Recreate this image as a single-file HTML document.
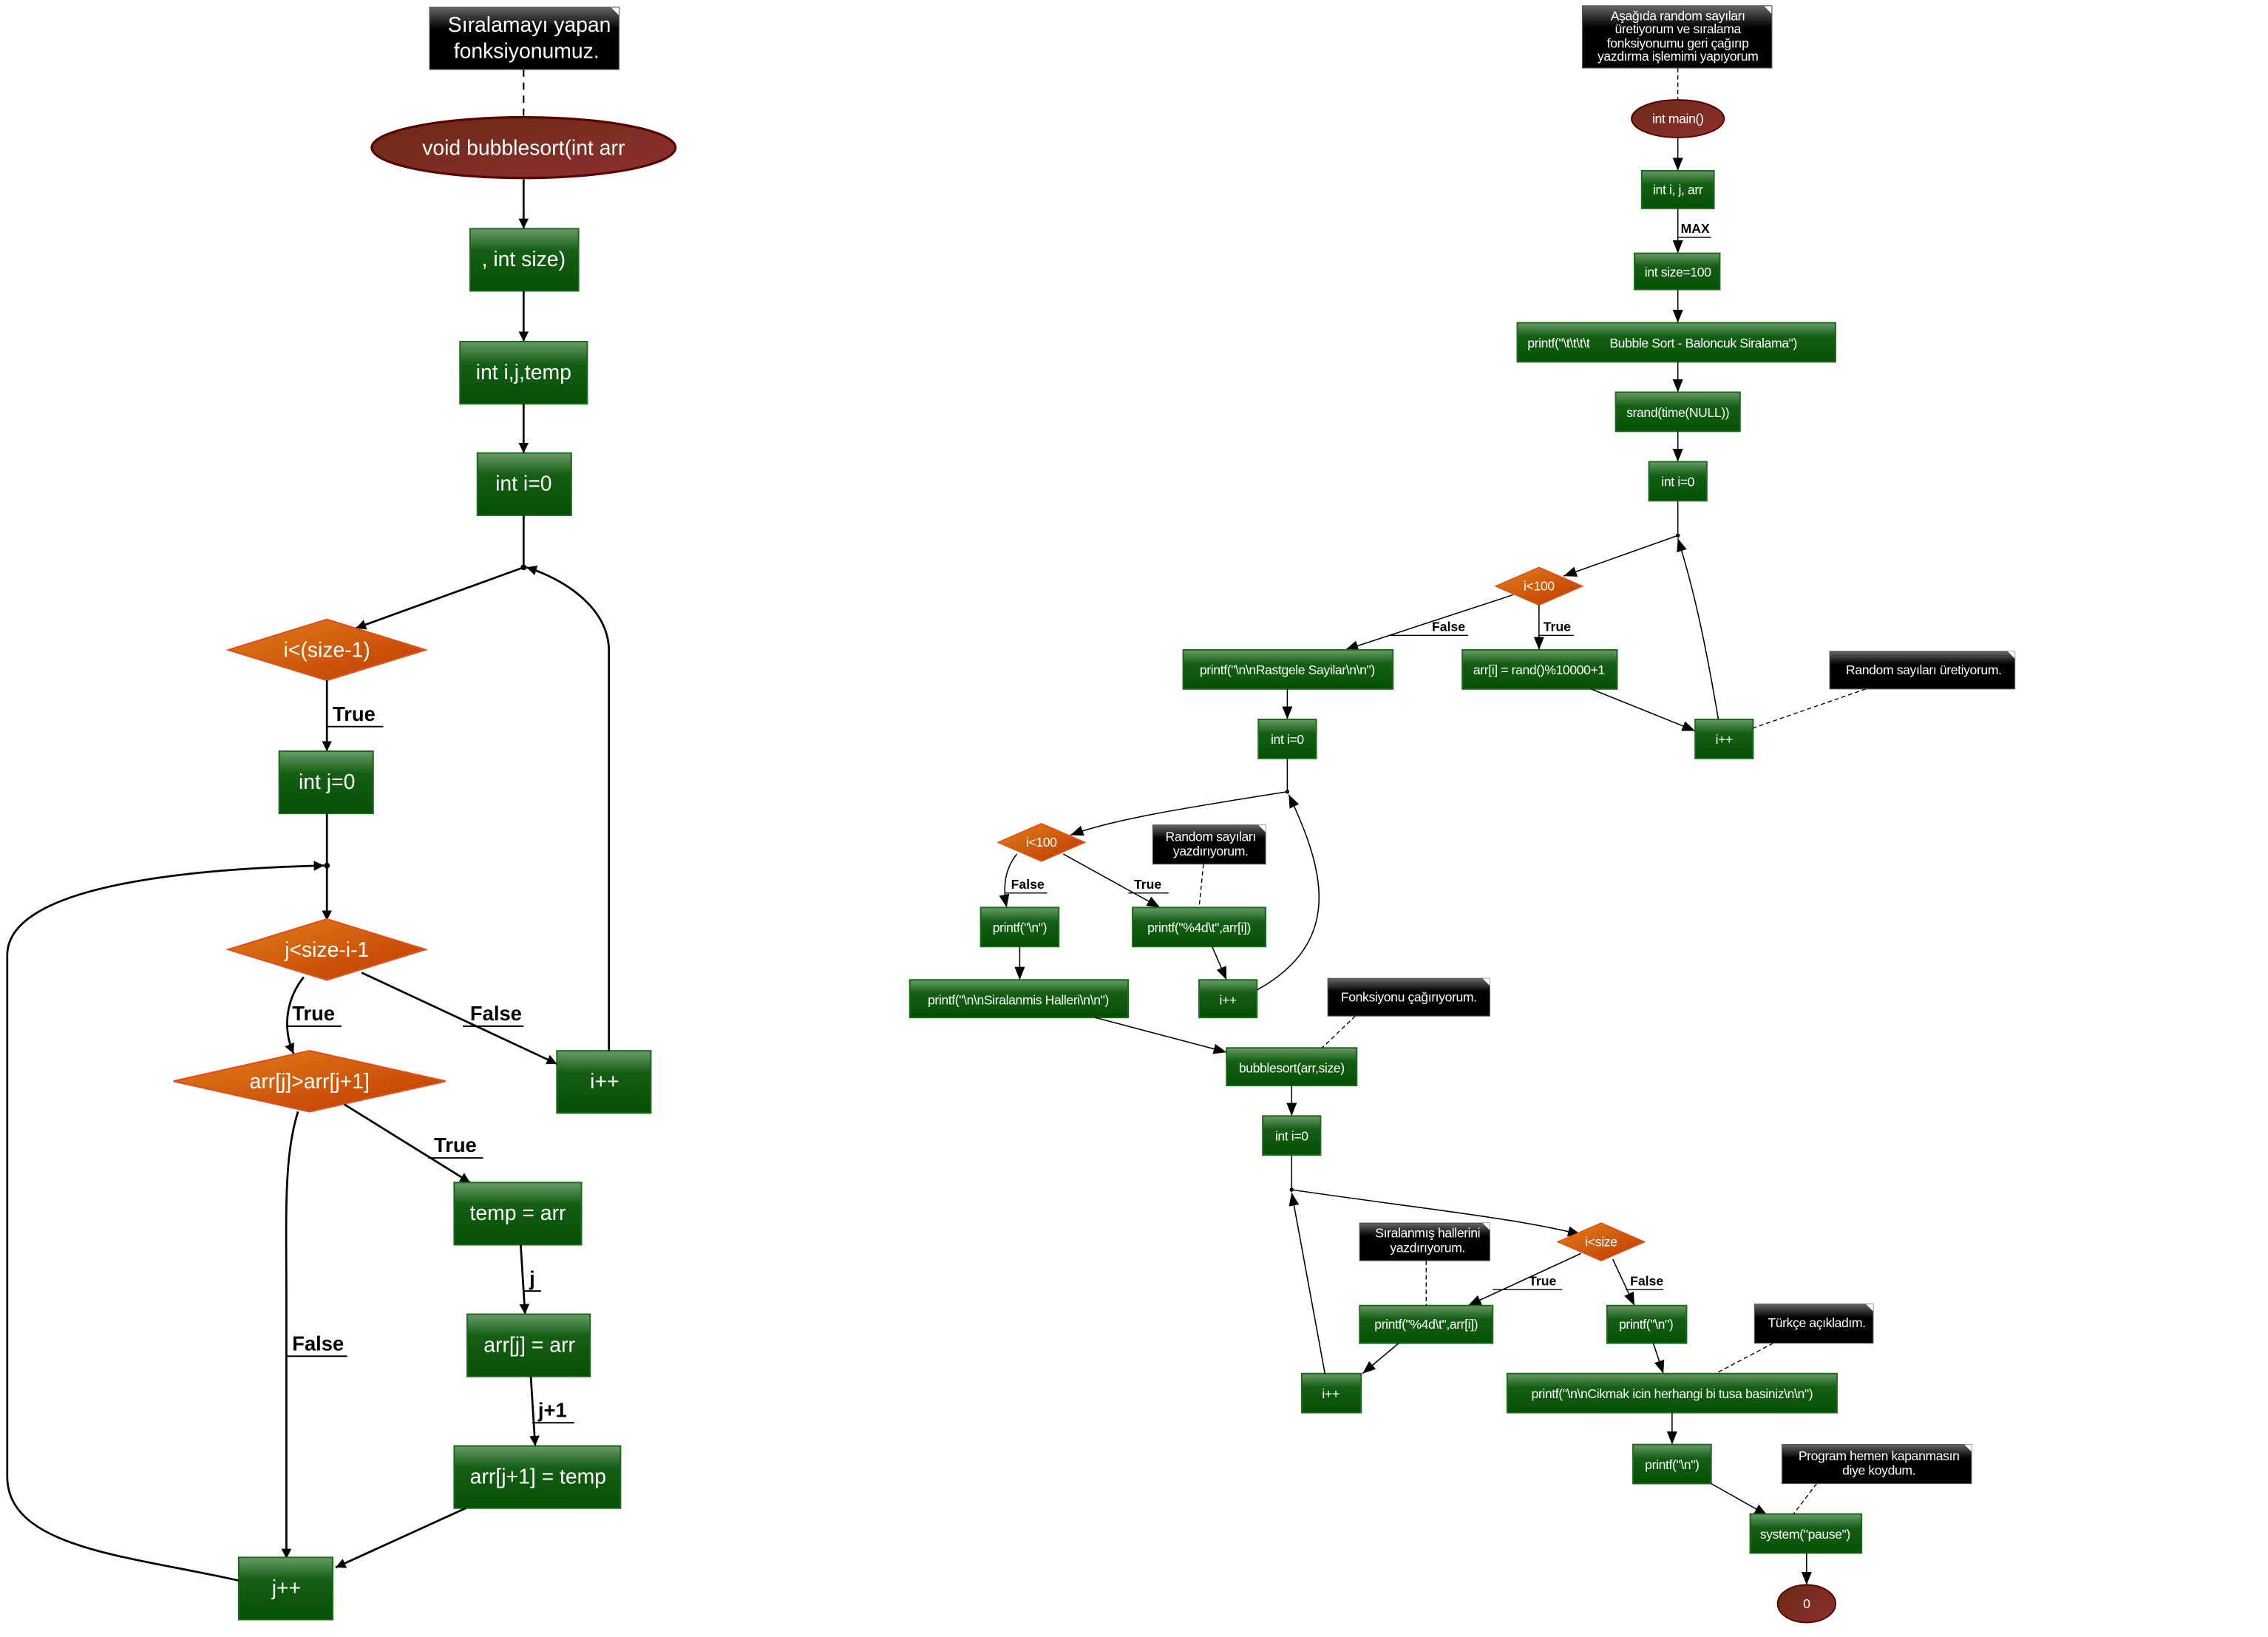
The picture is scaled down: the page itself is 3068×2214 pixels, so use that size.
<!DOCTYPE html>
<html><head><meta charset="utf-8"><style>
html,body{margin:0;padding:0;background:#fff;overflow:hidden;}
svg{display:block;}
text{font-family:"Liberation Sans","DejaVu Sans",sans-serif;}
.w{fill:#fff;text-anchor:middle;}
.L{font-size:14.5px;}
.R{font-size:9px;letter-spacing:-0.2px;}
.lbl{font-weight:bold;fill:#000;}
.box{fill:url(#gg);stroke:#1a6a1a;stroke-width:1;}
.note{fill:url(#gn);stroke:#555;stroke-width:0.6;}
.dia{fill:url(#go);stroke:#e0501a;stroke-width:1.2;}
.ell{fill:url(#gr);stroke:#5a0000;stroke-width:1.6;}
.e1{fill:none;stroke:#000;stroke-width:1.4;marker-end:url(#ab);}
.e2{fill:none;stroke:#000;stroke-width:0.8;marker-end:url(#as);}
.d1{fill:none;stroke:#000;stroke-width:1.1;stroke-dasharray:5,4;}
.d2{fill:none;stroke:#000;stroke-width:0.7;stroke-dasharray:3,2;}
.u{stroke:#000;fill:none;}
</style></head><body>
<svg width="3068" height="2214" viewBox="0 0 1568 1131" preserveAspectRatio="none" xmlns="http://www.w3.org/2000/svg">
<defs>
<linearGradient id="gg" x1="0" y1="0" x2="0" y2="1"><stop offset="0" stop-color="#6a9a6a"/><stop offset="0.35" stop-color="#155f15"/><stop offset="1" stop-color="#045004"/></linearGradient>
<linearGradient id="gn" x1="0" y1="0" x2="0" y2="1"><stop offset="0" stop-color="#666"/><stop offset="0.35" stop-color="#000"/><stop offset="1" stop-color="#000"/></linearGradient>
<linearGradient id="go" x1="0" y1="0" x2="1" y2="1"><stop offset="0" stop-color="#e0801a"/><stop offset="1" stop-color="#c03800"/></linearGradient>
<linearGradient id="gr" x1="0" y1="0" x2="1" y2="1"><stop offset="0" stop-color="#6a2a14"/><stop offset="1" stop-color="#8e3030"/></linearGradient>
<marker id="ab" viewBox="0 0 10 10" refX="10" refY="5" markerWidth="7" markerHeight="7" orient="auto" markerUnits="userSpaceOnUse"><path d="M0,0 L10,5 L0,10 z"/></marker>
<marker id="as" viewBox="0 0 10 10" refX="10" refY="5" markerWidth="9" markerHeight="9" orient="auto" markerUnits="userSpaceOnUse"><path d="M0,1 L10,5 L0,9 z"/></marker>
</defs>

<!-- ===== LEFT ===== -->
<path class="d1" d="M362,48 L362,83"/>
<rect class="note" x="297" y="5" width="131" height="43"/>
<path d="M422,5 L428,11 L428,5z" fill="#fff" stroke="#555" stroke-width="0.5"/>
<text class="w L" x="366" y="22">Sıralamayı yapan</text>
<text class="w L" x="364" y="40">fonksiyonumuz.</text>

<ellipse class="ell" cx="362" cy="102" rx="105" ry="21"/>
<text class="w L" x="362" y="107">void  bubblesort(int arr</text>

<path class="e1" d="M362,124 L362,158"/>
<rect class="box" x="325" y="158" width="75" height="43"/>
<text class="w L" x="362" y="184">, int size)</text>
<path class="e1" d="M362,201 L362,236"/>
<rect class="box" x="318" y="236" width="88" height="43"/>
<text class="w L" x="362" y="262">int i,j,temp</text>
<path class="e1" d="M362,279 L362,313"/>
<rect class="box" x="330" y="313" width="65" height="43"/>
<text class="w L" x="362" y="339">int i=0</text>
<path stroke="#000" stroke-width="1.4" d="M362,356 L362,392"/>
<circle cx="362" cy="392" r="2"/>
<path class="e1" d="M362,392 L246,434"/>

<polygon class="dia" points="158,449 226,428 294,449 226,470"/>
<text class="w L" x="226" y="454">i&lt;(size-1)</text>
<path class="e1" d="M226,470 L226,519"/>
<text class="lbl" x="230" y="498" font-size="14">True</text><path class="u" d="M226,502 L265,502"/>
<rect class="box" x="193" y="519" width="65" height="43"/>
<text class="w L" x="226" y="545">int j=0</text>
<path stroke="#000" stroke-width="1.4" d="M226,562 L226,598"/>
<circle cx="226" cy="598" r="2"/>
<path class="e1" d="M226,598 L226,636"/>
<polygon class="dia" points="158,656 226,635 294,656 226,677"/>
<text class="w L" x="226" y="661">j&lt;size-i-1</text>

<path class="e1" d="M210,675 C198,690 195,710 203,728"/>
<text class="lbl" x="202" y="705" font-size="14">True</text><path class="u" d="M198,709 L236,709"/>
<path class="e1" d="M250,672 L385,735"/>
<text class="lbl" x="325" y="705" font-size="14">False</text><path class="u" d="M320,709 L362,709"/>

<rect class="box" x="385" y="726" width="65" height="43"/>
<text class="w L" x="418" y="752">i++</text>
<path class="e1" d="M421,726 C421,650 421,520 421,450 C421,420 390,400 364,392"/>

<polygon class="dia" points="120,747 214,726 308,747 214,768"/>
<text class="w L" x="214" y="752">arr[j]&gt;arr[j+1]</text>
<path class="e1" d="M238,763 L325,817"/>
<text class="lbl" x="300" y="796" font-size="14">True</text><path class="u" d="M296,800 L334,800"/>
<rect class="box" x="314" y="817" width="88" height="43"/>
<text class="w L" x="358" y="843">temp = arr</text>
<path class="e1" d="M360,860 L363,908"/>
<text class="lbl" x="366" y="888" font-size="14">j</text><path class="u" d="M362,892 L374,892"/>
<rect class="box" x="323" y="908" width="85" height="43"/>
<text class="w L" x="366" y="934">arr[j] = arr</text>
<path class="e1" d="M367,951 L370,999"/>
<text class="lbl" x="372" y="979" font-size="14">j+1</text><path class="u" d="M368,983 L397,983"/>
<rect class="box" x="314" y="999" width="115" height="43"/>
<text class="w L" x="372" y="1025">arr[j+1] = temp</text>
<path class="e1" d="M322,1042 L232,1083"/>

<path class="e1" d="M206,768 C196,800 198,840 198,900 L198,1077"/>
<text class="lbl" x="202" y="933" font-size="14">False</text><path class="u" d="M198,937 L240,937"/>

<rect class="box" x="165" y="1076" width="65" height="43"/>
<text class="w L" x="198" y="1102">j++</text>
<path class="e1" d="M165,1092 C90,1075 5,1070 5,1020 L5,660 C5,610 140,600 224,598"/>

<!-- ===== RIGHT ===== -->
<path class="d2" d="M1160,47 L1160,70"/>
<rect class="note" x="1094" y="4" width="131" height="43"/>
<path d="M1219,4 L1225,10 L1225,4z" fill="#fff" stroke="#555" stroke-width="0.5"/>
<text class="w R" x="1160" y="14">Aşağıda random sayıları</text>
<text class="w R" x="1160" y="23">üretiyorum ve sıralama</text>
<text class="w R" x="1160" y="33">fonksiyonumu geri çağırıp</text>
<text class="w R" x="1160" y="42">yazdırma işlemimi yapıyorum</text>

<ellipse class="ell" cx="1160" cy="82" rx="32" ry="13" style="stroke-width:1"/>
<text class="w R" x="1160" y="85">int main()</text>
<path class="e2" d="M1160,95 L1160,118"/>
<rect class="box" x="1135" y="118" width="50" height="26"/>
<text class="w R" x="1160" y="134">int i, j, arr</text>
<path class="e2" d="M1160,144 L1160,175"/>
<text class="lbl" x="1162" y="161" font-size="9">MAX</text><path class="u" stroke-width="0.7" d="M1160,164 L1183,164"/>
<rect class="box" x="1130" y="175" width="59" height="25"/>
<text class="w R" x="1160" y="191">int size=100</text>
<path class="e2" d="M1160,200 L1160,223"/>
<rect class="box" x="1049" y="223" width="220" height="27"/>
<text class="R" x="1056" y="240" fill="#fff" xml:space="preserve">printf("\t\t\t\t      Bubble Sort - Baloncuk Siralama")</text>
<path class="e2" d="M1160,250 L1160,271"/>
<rect class="box" x="1117" y="271" width="86" height="27"/>
<text class="w R" x="1160" y="288">srand(time(NULL))</text>
<path class="e2" d="M1160,298 L1160,319"/>
<rect class="box" x="1140" y="319" width="40" height="27"/>
<text class="w R" x="1160" y="336">int i=0</text>
<path stroke="#000" stroke-width="0.8" d="M1160,346 L1160,370"/>
<circle cx="1160" cy="370" r="1.4"/>
<path class="e2" d="M1160,370 L1081,398"/>
<polygon class="dia" points="1034,405 1064,392 1094,405 1064,418" style="stroke-width:0.8"/>
<text class="w R" x="1064" y="408">i&lt;100</text>
<path class="e2" d="M1064,418 L1064,449"/>
<text class="lbl" x="1067" y="436" font-size="9">True</text><path class="u" stroke-width="0.7" d="M1064,439 L1088,439"/>
<path class="e2" d="M1046,411 L930,449"/>
<text class="lbl" x="990" y="436" font-size="9">False</text><path class="u" stroke-width="0.7" d="M960,439 L1015,439"/>
<rect class="box" x="1011" y="449" width="107" height="27"/>
<text class="w R" x="1064" y="466">arr[i] = rand()%10000+1</text>
<rect class="box" x="818" y="449" width="145" height="27"/>
<text class="w R" x="890" y="466">printf("\n\nRastgele Sayilar\n\n")</text>
<path class="e2" d="M1100,476 L1172,505"/>
<rect class="box" x="1172" y="497" width="40" height="27"/>
<text class="w R" x="1192" y="514">i++</text>
<path class="e2" d="M1188,497 C1180,450 1172,410 1160,372"/>
<path class="d2" d="M1290,476 L1212,503"/>
<rect class="note" x="1265" y="450" width="128" height="26"/>
<path d="M1388,450 L1393,455 L1393,450z" fill="#fff"/>
<text class="w R" x="1330" y="466">Random sayıları üretiyorum.</text>

<path class="e2" d="M890,476 L890,497"/>
<rect class="box" x="870" y="497" width="40" height="27"/>
<text class="w R" x="890" y="514">int i=0</text>
<path stroke="#000" stroke-width="0.8" d="M890,524 L890,547"/>
<circle cx="890" cy="547" r="1.4"/>
<path class="e2" d="M890,547 C820,558 770,566 740,577"/>
<polygon class="dia" points="690,582 720,569 750,582 720,595" style="stroke-width:0.8"/>
<text class="w R" x="720" y="585">i&lt;100</text>
<path class="e2" d="M703,590 C695,600 693,612 696,627"/>
<text class="lbl" x="699" y="614" font-size="9">False</text><path class="u" stroke-width="0.7" d="M695,617 L724,617"/>
<path class="e2" d="M735,590 L802,627"/>
<text class="lbl" x="784" y="614" font-size="9">True</text><path class="u" stroke-width="0.7" d="M780,617 L808,617"/>
<rect class="box" x="678" y="627" width="54" height="27"/>
<text class="w R" x="705" y="644">printf("\n")</text>
<rect class="box" x="783" y="627" width="92" height="27"/>
<text class="w R" x="829" y="644">printf("%4d\t",arr[i])</text>
<path class="d2" d="M832,597 L829,627"/>
<rect class="note" x="797" y="570" width="78" height="27"/>
<path d="M870,570 L875,575 L875,570z" fill="#fff"/>
<text class="w R" x="837" y="581">Random sayıları</text>
<text class="w R" x="837" y="591">yazdırıyorum.</text>
<path class="e2" d="M838,654 L848,677"/>
<rect class="box" x="829" y="677" width="40" height="26"/>
<text class="w R" x="849" y="694">i++</text>
<path class="e2" d="M869,684 C930,650 915,600 891,549"/>
<path class="e2" d="M705,654 L705,677"/>
<rect class="box" x="629" y="677" width="151" height="26"/>
<text class="w R" x="704" y="694">printf("\n\nSiralanmis Halleri\n\n")</text>
<path class="e2" d="M757,703 L848,727"/>
<rect class="box" x="848" y="724" width="90" height="26"/>
<text class="w R" x="893" y="741">bubblesort(arr,size)</text>
<path class="d2" d="M937,702 L914,724"/>
<rect class="note" x="918" y="676" width="112" height="26"/>
<path d="M1025,676 L1030,681 L1030,676z" fill="#fff"/>
<text class="w R" x="974" y="692">Fonksiyonu çağırıyorum.</text>
<path class="e2" d="M893,750 L893,771"/>
<rect class="box" x="873" y="771" width="40" height="27"/>
<text class="w R" x="893" y="788">int i=0</text>
<path stroke="#000" stroke-width="0.8" d="M893,798 L893,822"/>
<circle cx="893" cy="822" r="1.4"/>
<path class="e2" d="M893,822 C990,836 1050,842 1093,853"/>
<polygon class="dia" points="1077,858 1107,845 1137,858 1107,871" style="stroke-width:0.8"/>
<text class="w R" x="1107" y="861">i&lt;size</text>
<path class="e2" d="M1093,866 L1015,902"/>
<text class="lbl" x="1057" y="888" font-size="9">True</text><path class="u" stroke-width="0.7" d="M1032,891 L1080,891"/>
<path class="e2" d="M1115,870 L1130,902"/>
<text class="lbl" x="1127" y="888" font-size="9">False</text><path class="u" stroke-width="0.7" d="M1124,891 L1150,891"/>
<rect class="box" x="940" y="902" width="92" height="26"/>
<text class="w R" x="986" y="918">printf("%4d\t",arr[i])</text>
<path class="d2" d="M986,871 L986,902"/>
<rect class="note" x="940" y="845" width="90" height="26"/>
<path d="M1025,845 L1030,850 L1030,845z" fill="#fff"/>
<text class="w R" x="987" y="855">Sıralanmış hallerini</text>
<text class="w R" x="987" y="865">yazdırıyorum.</text>
<rect class="box" x="1111" y="902" width="55" height="26"/>
<text class="w R" x="1138" y="918">printf("\n")</text>
<path class="e2" d="M967,928 L942,949"/>
<rect class="box" x="900" y="949" width="41" height="27"/>
<text class="w R" x="920" y="966">i++</text>
<path class="e2" d="M916,949 L893,824"/>
<path class="e2" d="M1143,928 L1150,949"/>
<rect class="box" x="1042" y="949" width="228" height="27"/>
<text class="w R" x="1156" y="966">printf("\n\nCikmak icin herhangi bi tusa basiniz\n\n")</text>
<path class="d2" d="M1226,928 L1186,949"/>
<rect class="note" x="1213" y="901" width="82" height="27"/>
<path d="M1290,901 L1295,906 L1295,901z" fill="#fff"/>
<text class="w R" x="1256" y="917">Türkçe açıkladım.</text>
<path class="e2" d="M1156,976 L1156,998"/>
<rect class="box" x="1129" y="998" width="54" height="27"/>
<text class="w R" x="1156" y="1015">printf("\n")</text>
<path class="e2" d="M1183,1025 L1222,1047"/>
<rect class="box" x="1210" y="1046" width="77" height="27"/>
<text class="w R" x="1248" y="1063">system("pause")</text>
<path class="d2" d="M1256,1025 L1240,1046"/>
<rect class="note" x="1232" y="998" width="131" height="27"/>
<path d="M1358,998 L1363,1003 L1363,998z" fill="#fff"/>
<text class="w R" x="1299" y="1009">Program hemen kapanmasın</text>
<text class="w R" x="1299" y="1019">diye koydum.</text>
<path class="e2" d="M1249,1073 L1249,1095"/>
<ellipse class="ell" cx="1249" cy="1108" rx="20" ry="13" style="stroke-width:1"/>
<text class="w R" x="1249" y="1111">0</text>
</svg>
</body></html>
